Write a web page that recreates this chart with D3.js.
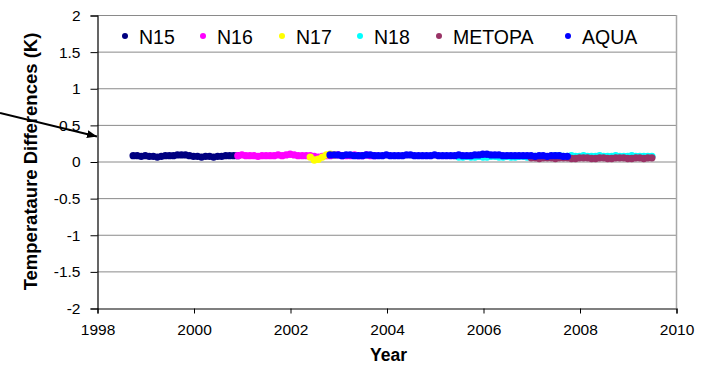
<!DOCTYPE html>
<html>
<head>
<meta charset="utf-8">
<script src="https://cdn.jsdelivr.net/npm/d3@7/dist/d3.min.js"></script>
<style>
  body { margin: 0; background: #fff; }
  text { font-family: "Liberation Sans", Arial, sans-serif; }
</style>
</head>
<body>
<svg id="chart" width="704" height="368"></svg>
<script>
// Satellite series: name, colour, first month (decimal year) and monthly mean differences (K)
const seriesNames  = ["N15", "N16", "N17", "N18", "METOPA", "AQUA"];
const seriesColors = ["#000080", "#FF00FF", "#FFFF00", "#00FFFF", "#993366", "#0000FF"];
const seriesStart  = [1998.75, 2000.92, 2002.42, 2005.50, 2007.00, 2002.83];

const n15 = [0.08,0.08,0.07,0.08,0.07,0.07,0.06,0.07,0.08,0.08,0.08,0.09,0.09,0.09,
             0.08,0.07,0.07,0.06,0.07,0.07,0.06,0.07,0.07,0.08,0.08,0.08,0.08];
const n16 = [0.08,0.09,0.08,0.08,0.08,0.07,0.08,0.08,0.08,0.08,0.09,0.08,0.09,0.10,
             0.09,0.08,0.08,0.08,0.08,0.07,0.06,0.07,0.08,0.08,0.09,0.09,0.08,0.08,
             0.08,0.09,0.08,0.08,0.09,0.08,0.08];
const n17 = [0.06,0.02,0.03,0.06,0.09,0.10,0.09];
const n18 = [0.06,0.06,0.07,0.06,0.06,0.07,0.06,0.06,0.07,0.07,0.06,0.06,0.07,0.06,
             0.06,0.07,0.07,0.06,0.06,0.07,0.07,0.06,0.06,0.07,0.08,0.08,0.07,0.07,
             0.08,0.07,0.07,0.08,0.07,0.07,0.07,0.08,0.07,0.07,0.07,0.08,0.07,0.07,
             0.07,0.08,0.07,0.07,0.07,0.07,0.07];
const metopa = [0.05,0.05,0.04,0.05,0.05,0.05,0.04,0.05,0.05,0.05,0.04,0.04,0.05,0.05,
                0.05,0.04,0.04,0.05,0.05,0.04,0.04,0.05,0.05,0.05,0.04,0.04,0.05,0.05,
                0.04,0.05,0.05];
const aqua = [0.09,0.09,0.09,0.08,0.09,0.09,0.08,0.08,0.08,0.09,0.09,0.08,0.08,0.08,
              0.09,0.08,0.08,0.08,0.08,0.09,0.09,0.08,0.08,0.08,0.08,0.08,0.09,0.08,
              0.08,0.08,0.08,0.08,0.09,0.08,0.08,0.08,0.09,0.09,0.10,0.10,0.09,0.09,
              0.09,0.08,0.08,0.08,0.08,0.08,0.08,0.08,0.08,0.07,0.08,0.08,0.07,0.08,
              0.08,0.08,0.07,0.07];
const seriesValues = [n15, n16, n17, n18, metopa, aqua];

const xTicks = [1998, 2000, 2002, 2004, 2006, 2008, 2010];
const yTicks = [-2, -1.5, -1, -0.5, 0, 0.5, 1, 1.5, 2];

const plot = { left: 97, top: 15, right: 676, bottom: 308 };

const svg = d3.select("#chart");
const x = d3.scaleLinear().domain([1998, 2010]).range([plot.left, plot.right]);
const y = d3.scaleLinear().domain([-2, 2]).range([plot.bottom, plot.top]);

// horizontal gridlines
svg.append("g").selectAll("line")
  .data(yTicks.filter(d => d > -2))
  .join("line")
  .attr("x1", plot.left).attr("x2", plot.right)
  .attr("y1", d => y(d) + 0.5).attr("y2", d => y(d) + 0.5)
  .attr("stroke", "#8a8a8a").attr("stroke-width", 1);

// right border of the plot area
svg.append("line")
  .attr("x1", plot.right + 0.5).attr("x2", plot.right + 0.5)
  .attr("y1", plot.top).attr("y2", plot.bottom)
  .attr("stroke", "#a8a8a8").attr("stroke-width", 1.5);

// data points, later series on top
seriesValues.forEach((vals, si) => {
  const pts = vals.map((v, i) => ({ t: seriesStart[si] + i / 12, v }));
  svg.append("g").selectAll("circle")
    .data(pts)
    .join("circle")
    .attr("cx", d => x(d.t))
    .attr("cy", d => y(d.v))
    .attr("r", 3.7)
    .attr("fill", seriesColors[si]);
});

// axes
const yAxis = svg.append("g")
  .attr("transform", `translate(${plot.left + 0.5},0.5)`)
  .call(d3.axisLeft(y).tickValues(yTicks).tickSize(7).tickPadding(10).tickFormat(d => String(d)));
const xAxis = svg.append("g")
  .attr("transform", `translate(0.5,${plot.bottom + 0.5})`)
  .call(d3.axisBottom(x).tickValues(xTicks).tickSize(5).tickPadding(10).tickFormat(d => String(d)));
[yAxis, xAxis].forEach(g => {
  g.select(".domain").attr("stroke", "#000").attr("stroke-width", 1.2);
  g.selectAll(".tick line").attr("stroke", "#000");
  g.selectAll(".tick text")
    .attr("fill", "#000")
    .style("font-family", "'Liberation Sans', Arial, sans-serif")
    .style("font-size", "15.5px");
});

// axis titles
svg.append("text")
  .attr("x", (plot.left + plot.right) / 2 + 2).attr("y", 361)
  .attr("text-anchor", "middle")
  .style("font-size", "17.5px").style("font-weight", "bold")
  .text("Year");
svg.append("text")
  .attr("transform", `translate(37,${(plot.top + plot.bottom) / 2}) rotate(-90)`)
  .attr("text-anchor", "middle")
  .style("font-size", "18.5px").style("font-weight", "bold")
  .text("Temperataure Differences (K)");

// legend across the top of the plot area
const legendX = [125, 203, 282, 360, 439, 568];
const legend = svg.append("g").selectAll("g")
  .data(seriesNames)
  .join("g")
  .attr("transform", (d, i) => `translate(${legendX[i]},36)`);
legend.append("circle").attr("r", 3).attr("fill", (d, i) => seriesColors[i]);
legend.append("text")
  .attr("x", 14).attr("y", 7.5)
  .style("font-size", "19.5px")
  .attr("fill", "#000")
  .text(d => d);

// pointer arrow ending at the y axis
const arrowTip = [x(1998), y(0.34)];
const arrowTail = [0, 113];
svg.append("defs").append("marker")
  .attr("id", "head")
  .attr("viewBox", "0 0 10 8")
  .attr("refX", 10).attr("refY", 4)
  .attr("markerWidth", 10).attr("markerHeight", 8)
  .attr("markerUnits", "userSpaceOnUse")
  .attr("orient", "auto")
  .append("path").attr("d", "M0,0 L10,4 L0,8 Z").attr("fill", "#000");
svg.append("line")
  .attr("x1", arrowTail[0]).attr("y1", arrowTail[1])
  .attr("x2", arrowTip[0]).attr("y2", arrowTip[1])
  .attr("stroke", "#000").attr("stroke-width", 2)
  .attr("marker-end", "url(#head)");
</script>
</body>
</html>
